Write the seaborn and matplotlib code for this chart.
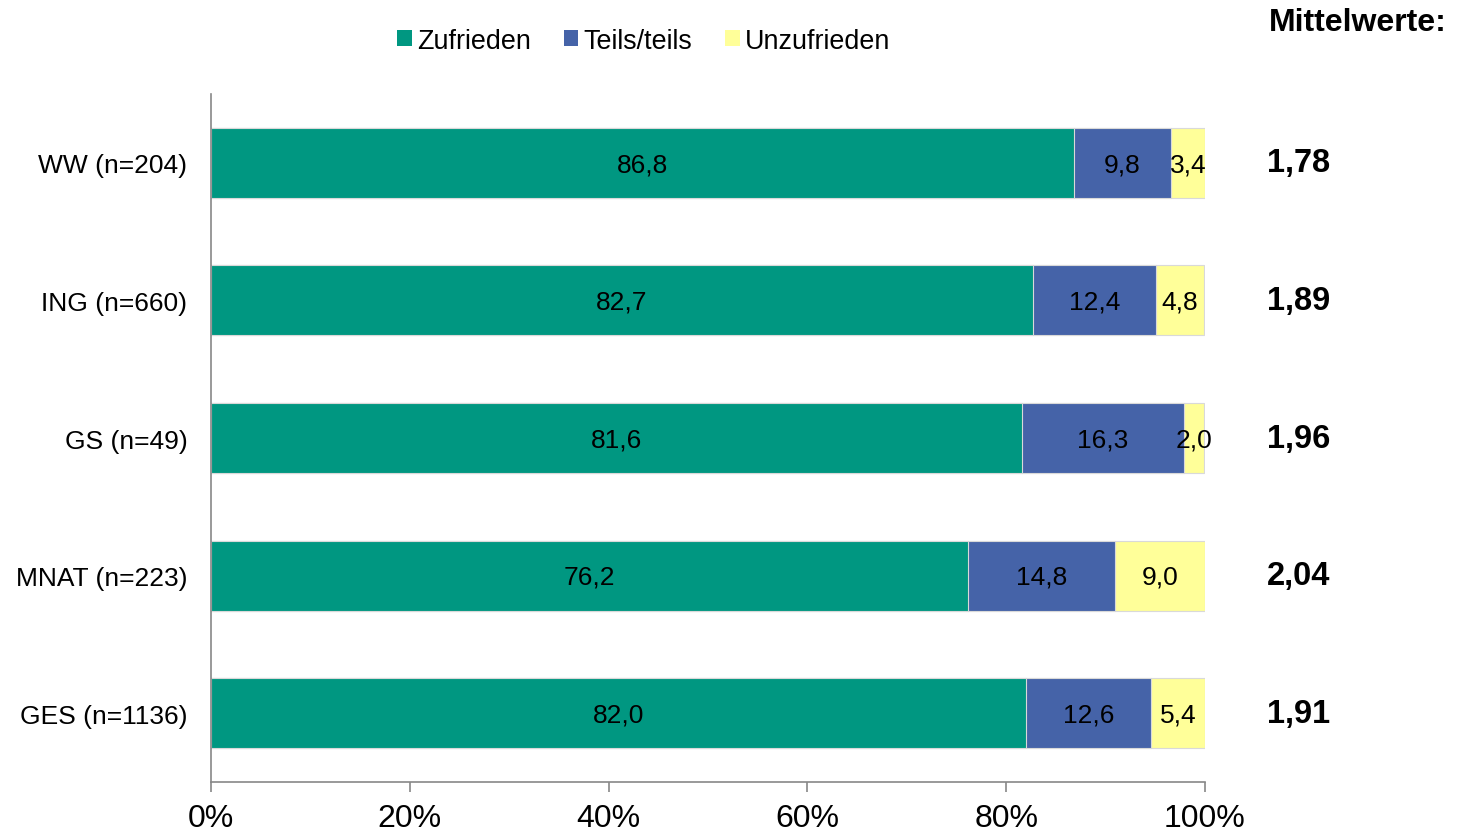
import pandas as pd
import seaborn as sns
import matplotlib.pyplot as plt
from matplotlib.patches import Patch
from matplotlib.transforms import blended_transform_factory

# Data
groups = ['WW (n=204)', 'ING (n=660)', 'GS (n=49)', 'MNAT (n=223)', 'GES (n=1136)']
zufrieden = [86.8, 82.7, 81.6, 76.2, 82.0]
teils = [9.8, 12.4, 16.3, 14.8, 12.6]
unzufrieden = [3.4, 4.8, 2.0, 9.0, 5.4]
mittelwerte = ['1,78', '1,89', '1,96', '2,04', '1,91']
series_names = ['Zufrieden', 'Teils/teils', 'Unzufrieden']
colors = ['#009781', '#4563A8', '#FFFF99']

df = pd.DataFrame({'gruppe': groups, 'Zufrieden': zufrieden,
                   'Teils/teils': teils, 'Unzufrieden': unzufrieden})
df['c1'] = df['Zufrieden']
df['c2'] = df['c1'] + df['Teils/teils']
df['c3'] = df['c2'] + df['Unzufrieden']

sns.set_style('white')
plt.rcParams['font.family'] = ['Liberation Sans', 'DejaVu Sans']
plt.rcParams['text.color'] = 'black'
plt.rcParams['xtick.color'] = 'black'
plt.rcParams['ytick.color'] = 'black'

fig = plt.figure(figsize=(14.6, 8.37), dpi=100)
ax = fig.add_axes([0.1445, 0.0645, 0.6808, 0.822])

# stacked bars: draw cumulative totals back to front
for col, c in zip(['c3', 'c2', 'c1'], colors[::-1]):
    sns.barplot(data=df, x=col, y='gruppe', orient='h', color=c, width=0.51,
                saturation=1, edgecolor='#d9d9d9', linewidth=0.8, ax=ax)

# value labels in the middle of each segment
for i, row in df.iterrows():
    left = 0
    for name in series_names:
        v = row[name]
        ax.text(left + v / 2, i + 0.01, f'{v:.1f}'.replace('.', ','), ha='center',
                va='center', fontsize=19, color='black')
        left += v

ax.set_xlim(0, 100)
ax.set_ylim(4.5, -0.5)
ax.set_xticks([0, 20, 40, 60, 80, 100])
ax.set_xticklabels([f'{t}%' for t in [0, 20, 40, 60, 80, 100]], fontsize=23)
ax.set_xlabel('')
ax.set_ylabel('')
ax.tick_params(axis='y', length=0, pad=17, labelsize=19)
ax.tick_params(axis='x', length=7, width=1.2, color='#888888', direction='out', pad=8, bottom=True)
for s in ['top', 'right']:
    ax.spines[s].set_visible(False)
for s in ['left', 'bottom']:
    ax.spines[s].set_color('#888888')
    ax.spines[s].set_linewidth(1.2)

# mean values on the right
trans = blended_transform_factory(fig.transFigure, ax.transData)
for i, m in enumerate(mittelwerte):
    ax.text(0.868, i, m, transform=trans, ha='left', va='center',
            fontsize=23.5, fontweight='bold')
fig.text(0.869, 0.972, 'Mittelwerte:', ha='left', va='center', fontsize=23, fontweight='bold')

handles = [Patch(facecolor=c, edgecolor='none') for c in colors]
fig.legend(handles, series_names, loc='center', bbox_to_anchor=(0.441, 0.950), ncol=3,
           frameon=False, fontsize=19.4, handlelength=0.55, handleheight=0.55,
           handletextpad=0.2, columnspacing=1.2)

fig.savefig('out.png', dpi=100)
